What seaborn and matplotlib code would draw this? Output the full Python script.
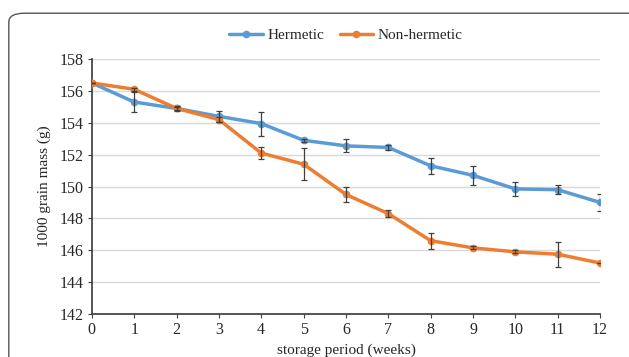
import matplotlib
matplotlib.use("Agg")
import matplotlib.pyplot as plt
from matplotlib.patches import FancyBboxPatch
import seaborn as sns
import pandas as pd
import numpy as np

weeks = list(range(13))
hermetic = [156.5, 155.3, 154.9, 154.4, 153.95, 152.9, 152.55, 152.45, 151.3, 150.7, 149.85, 149.8, 149.0]
hermetic_err = [0.0, 0.6, 0.15, 0.35, 0.75, 0.1, 0.4, 0.15, 0.5, 0.6, 0.45, 0.3, 0.55]
nonhermetic = [156.5, 156.1, 154.9, 154.2, 152.1, 151.4, 149.5, 148.3, 146.6, 146.15, 145.9, 145.75, 145.2]
nonhermetic_err = [0.0, 0.1, 0.1, 0.15, 0.35, 1.0, 0.45, 0.2, 0.5, 0.1, 0.1, 0.8, 0.0]

sns.set_theme(style="white")
plt.rcParams["font.family"] = ["Liberation Serif", "DejaVu Serif"]

df = pd.DataFrame({
    "week": weeks * 2,
    "mass": hermetic + nonhermetic,
    "treatment": ["Hermetic"] * 13 + ["Non-hermetic"] * 13,
})
palette = {"Hermetic": "#5B9BD5", "Non-hermetic": "#ED7D31"}

fig = plt.figure(figsize=(6.29, 3.57), dpi=100)
ax = fig.add_axes([0.146, 0.1204, 0.808, 0.7143])

# rounded frame around the figure
frame = FancyBboxPatch((0.014, -0.05), 1.05, 1.013, boxstyle="round,pad=0,rounding_size=0.025",
                       transform=fig.transFigure, facecolor="none", edgecolor="#555555",
                       linewidth=1.0, clip_on=False)
fig.patches.append(frame)

for name, vals, errs in [("Hermetic", hermetic, hermetic_err), ("Non-hermetic", nonhermetic, nonhermetic_err)]:
    ax.errorbar(weeks, vals, yerr=errs, fmt="none", ecolor="#404040", elinewidth=0.9,
                capsize=2.5, capthick=0.9, zorder=4)

sns.lineplot(data=df, x="week", y="mass", hue="treatment", palette=palette, marker="o",
             markersize=5.5, markeredgewidth=0, linewidth=2.5, ax=ax, zorder=3)

ax.set_xlim(0, 12)
ax.set_ylim(142, 158)
ax.set_xticks(weeks)
ax.set_yticks(np.arange(142, 159, 2))
ax.yaxis.grid(True, color="#d9d9d9", linewidth=1)
ax.set_axisbelow(True)
for s in ["top", "right"]:
    ax.spines[s].set_visible(False)
ax.spines["left"].set_color("#404040")
ax.spines["bottom"].set_color("#404040")
ax.tick_params(axis="both", direction="out", length=3, width=0.8, color="#404040",
               labelsize=11.5, left=True, bottom=True, pad=3)
ax.set_xlabel("storage period (weeks)", fontsize=11, labelpad=4)
ax.set_ylabel("1000 grain mass (g)", fontsize=11, labelpad=6)

leg = ax.legend(loc="center", bbox_to_anchor=(0.5, 1.094), ncol=2, frameon=False,
                fontsize=11, handlelength=2.2, columnspacing=1.0, handletextpad=0.3)

fig.savefig("out.png", dpi=100)
